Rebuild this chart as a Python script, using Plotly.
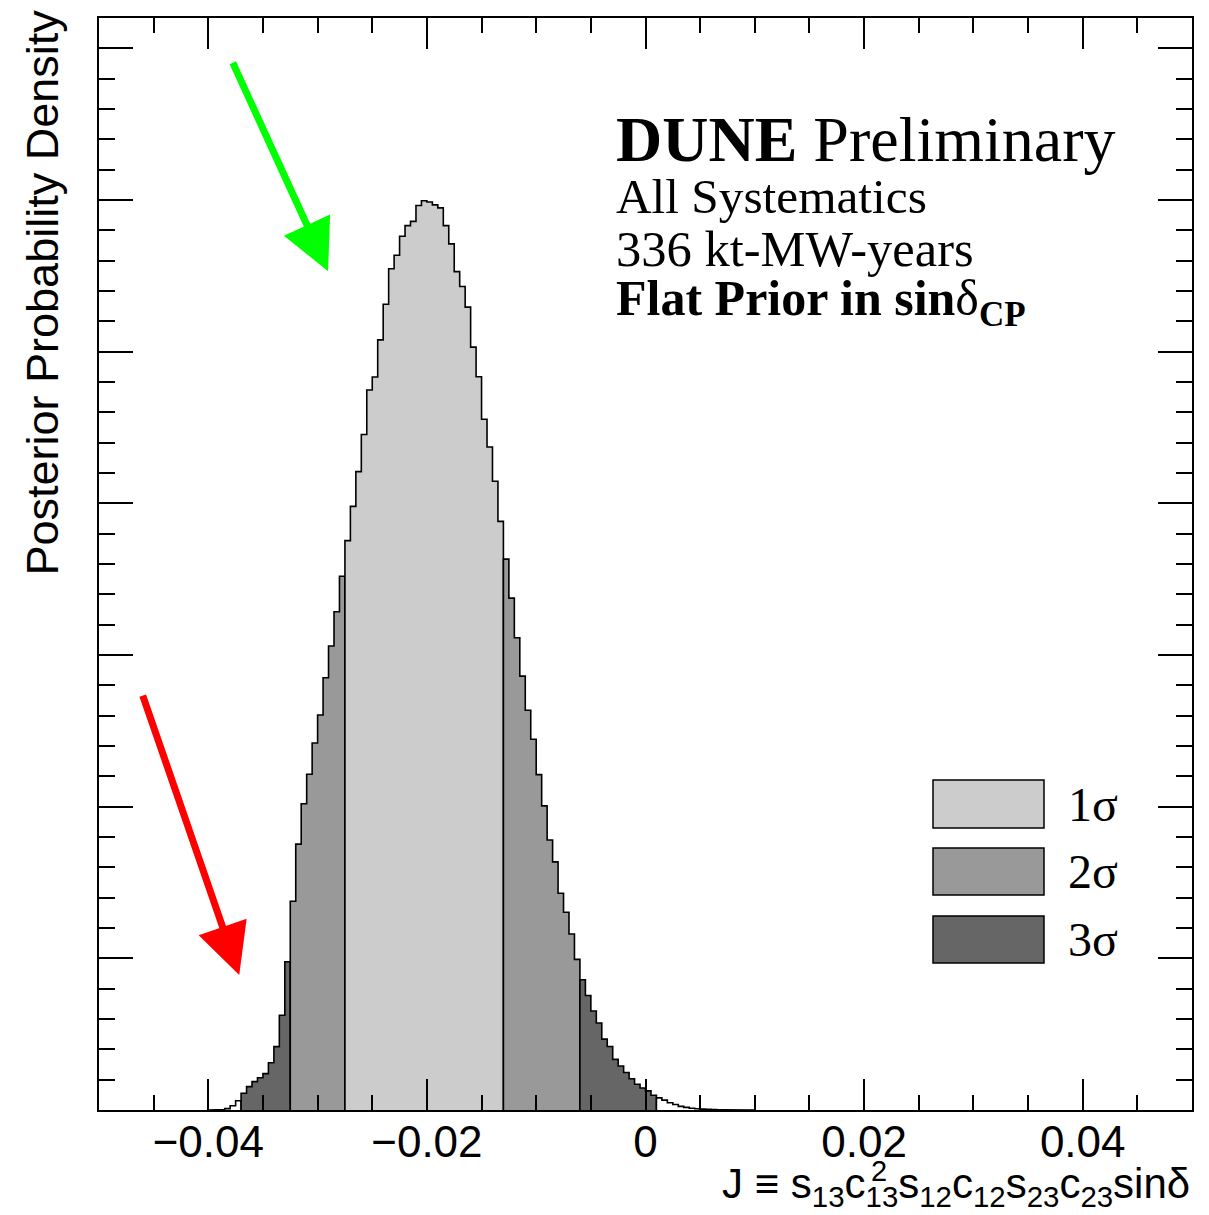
import numpy as np
import plotly.graph_objects as go

# Posterior of the Jarlskog invariant, histogram with 0.0005-wide bins
BIN_WIDTH = 0.0005
FIRST_EDGE = -0.0400
density = [
    0.0005, 0.001, 0.003, 0.009, 0.028, 0.061,                      # -0.0400 .. -0.0375
    0.110, 0.154, 0.187, 0.213, 0.240, 0.312, 0.418, 0.625, 0.977,   # -0.0370 .. -0.0330
    1.376, 1.753, 2.019, 2.214, 2.420, 2.604, 2.850, 3.059, 3.285, 3.519,  # -0.0325 .. -0.0280
    3.754, 3.980, 4.209, 4.454, 4.747, 4.833, 5.078, 5.313, 5.547, 5.636,  # -0.0275 .. -0.0230
    5.761, 5.831, 5.859, 5.964, 5.995, 5.987, 5.968, 5.948, 5.831, 5.711,  # -0.0225 .. -0.0180
    5.528, 5.430, 5.294, 5.030, 4.835, 4.554, 4.371, 4.146, 3.881,         # -0.0175 .. -0.0135
    3.632, 3.375, 3.114, 2.861, 2.636, 2.445, 2.211, 2.005, 1.780, 1.636,  # -0.0130 .. -0.0085
    1.429, 1.304, 1.160, 0.993,                                            # -0.0080 .. -0.0065
    0.859, 0.755, 0.653, 0.574, 0.467, 0.419, 0.334, 0.290, 0.247, 0.206,  # -0.0060 .. -0.0015
    0.170, 0.145, 0.126, 0.097,                                            # -0.0010 .. 0.0005
    0.080, 0.065, 0.048, 0.036, 0.024, 0.017, 0.012, 0.008, 0.006, 0.004,  # 0.0010 .. 0.0055
    0.003, 0.002, 0.0015, 0.001, 0.0008, 0.0005, 0.0004, 0.0003,           # 0.0060 .. 0.0095
]

# credible-interval edges
ci_1sigma = (-0.0275, -0.0130)
ci_2sigma = (-0.0325, -0.0060)
ci_3sigma = (-0.0370, 0.0010)

region_labels = ["1σ", "2σ", "3σ"]
region_colors = ["#cccccc", "#999999", "#666666"]
TAIL_COLOR = "#ffffff"

x_tick_vals = [-0.04, -0.02, 0.0, 0.02, 0.04]
x_tick_text = ["\u22120.04", "\u22120.02", "0", "0.02", "0.04"]

n_bins = len(density)
edges = FIRST_EDGE + BIN_WIDTH * np.arange(n_bins + 1)
vals = np.array(density)
last_edge = edges[-1]


def edge_index(x):
    return int(round((x - FIRST_EDGE) / BIN_WIDTH))


def step_polygon(lo, hi):
    i0, i1 = edge_index(lo), edge_index(hi)
    xs = [edges[i0]]
    ys = [0.0]
    for i in range(i0, i1):
        xs += [edges[i], edges[i + 1]]
        ys += [vals[i], vals[i]]
    xs.append(edges[i1])
    ys.append(0.0)
    return xs, ys


# contiguous pieces: outer tails, then the nested intervals
segments = [
    (FIRST_EDGE, ci_3sigma[0], TAIL_COLOR),
    (ci_3sigma[0], ci_2sigma[0], region_colors[2]),
    (ci_2sigma[0], ci_1sigma[0], region_colors[1]),
    (ci_1sigma[0], ci_1sigma[1], region_colors[0]),
    (ci_1sigma[1], ci_2sigma[1], region_colors[1]),
    (ci_2sigma[1], ci_3sigma[1], region_colors[2]),
    (ci_3sigma[1], last_edge, TAIL_COLOR),
]

fig = go.Figure()
for lo, hi, col in segments:
    xs, ys = step_polygon(lo, hi)
    fig.add_trace(go.Scatter(
        x=xs, y=ys, mode="lines", fill="toself", fillcolor=col,
        line=dict(color="black", width=1.6), hoverinfo="skip", showlegend=False,
    ))

W, H = 1209, 1215
ML, MR, MT, MB = 99, 17, 18, 105
PW, PH = W - ML - MR, H - MT - MB


def px(xp):
    return (xp - ML) / PW


def py(yp):
    return (H - MB - yp) / PH


serif = "Liberation Serif"
sans = "Liberation Sans"

annotations = []
# text block
annotations.append(dict(text="<b>DUNE</b> Preliminary", x=px(614), y=py(139), xref="paper", yref="paper",
                        xanchor="left", yanchor="middle", showarrow=False,
                        font=dict(family=serif, size=64, color="black")))
for txt, yc, fs in [("All Systematics", 197, 49.3), ("336 kt-MW-years", 249, 50.5),
                    ("<b>Flat Prior in sin</b>δ<b><sub>CP</sub></b>", 302, 50)]:
    annotations.append(dict(text=txt, x=px(614), y=py(yc), xref="paper", yref="paper",
                            xanchor="left", yanchor="middle", showarrow=False,
                            font=dict(family=serif, size=fs, color="black")))

# legend
shapes = []
legend_rows = [(780, 828), (848, 895), (916, 963)]
for (top, bot), lab, col in zip(legend_rows, region_labels, region_colors):
    shapes.append(dict(type="rect", xref="paper", yref="paper",
                       x0=px(933), x1=px(1044), y0=py(bot), y1=py(top),
                       fillcolor=col, line=dict(color="black", width=1.5)))
    annotations.append(dict(text=lab, x=px(1066), y=py((top + bot) / 2), xref="paper", yref="paper",
                            xanchor="left", yanchor="middle", showarrow=False,
                            font=dict(family=serif, size=48, color="black")))

# axis titles
annotations.append(dict(text="Posterior Probability Density", x=px(14), y=py(8), xref="paper", yref="paper",
                        xanchor="left", yanchor="top", textangle=-90, showarrow=False,
                        font=dict(family=sans, size=45, color="black")))
annotations.append(dict(
    text="J \u2261 s<sub>13</sub>c<sub>13</sub>s<sub>12</sub>c<sub>12</sub>s<sub>23</sub>c<sub>23</sub>sinδ",
    x=px(1192), y=py(1186), xref="paper", yref="paper", xanchor="right", yanchor="middle",
    showarrow=False, font=dict(family=sans, size=42, color="black")))
annotations.append(dict(text="2", x=px(869), y=py(1171), xref="paper", yref="paper",
                        xanchor="left", yanchor="middle", showarrow=False,
                        font=dict(family=sans, size=29, color="black")))

# arrows pointing at the distribution
for tip_x, tip_y, dx, dy, col in [(-0.02904, 5.53, -96, -210, "#00ff00"),
                                  (-0.03717, 0.89, -97, -281, "#ff0000")]:
    annotations.append(dict(x=tip_x, y=tip_y, xref="x", yref="y", ax=dx, ay=dy,
                            axref="pixel", ayref="pixel", text="", showarrow=True,
                            arrowhead=2, arrowsize=1.45, arrowwidth=7, arrowcolor=col, standoff=0))

fig.update_layout(
    width=W, height=H, margin=dict(l=ML, r=MR, t=MT, b=MB),
    paper_bgcolor="white", plot_bgcolor="white",
    shapes=shapes, annotations=annotations, showlegend=False,
    xaxis=dict(range=[-0.05, 0.05], tickvals=x_tick_vals, ticktext=x_tick_text,
               ticks="inside", ticklen=31, tickwidth=1.6, tickcolor="black",
               minor=dict(dtick=0.005, tick0=0, ticks="inside", ticklen=15, tickwidth=1.6, tickcolor="black"),
               showline=True, linewidth=2, linecolor="black", mirror="allticks",
               showgrid=False, zeroline=False, ticklabelstandoff=-8,
               tickfont=dict(family=sans, size=44, color="black")),
    yaxis=dict(range=[0, 7.2], dtick=1, tick0=0, ticks="inside", ticklen=34, tickwidth=1.6, tickcolor="black",
               minor=dict(dtick=0.2, tick0=0, ticks="inside", ticklen=16, tickwidth=1.6, tickcolor="black"),
               showline=True, linewidth=2, linecolor="black", mirror="allticks",
               showgrid=False, zeroline=False, showticklabels=False),
)

fig.write_html("out.html")
